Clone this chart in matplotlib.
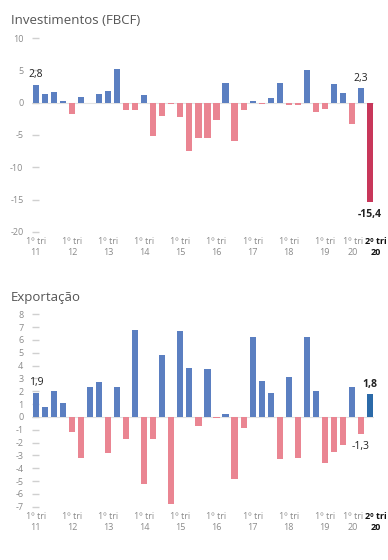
import numpy as np
from matplotlib import pyplot as plt
from matplotlib import transforms

plt.rcParams['font.family'] = ['Open Sans', 'DejaVu Sans']

# variação trimestral, 1º tri 2011 a 2º tri 2020
investimentos = [2.8, 1.3, 1.6, 0.3, -1.7, 0.9, 0.0, 1.3, 1.8, 5.2,
                 -1.2, -1.2, 1.2, -5.1, -2.1, -0.2, -2.2, -7.5, -5.4, -5.4,
                 -2.7, 3.0, -5.9, -1.2, 0.3, -0.2, 0.7, 3.1, -0.3, -0.3,
                 5.1, -1.4, -1.0, 2.9, 1.5, -3.3, 2.3, -15.4]
exportacao = [1.9, 0.8, 2.0, 1.1, -1.2, -3.2, 2.3, 2.7, -2.8, 2.3,
              -1.7, 6.8, -5.2, -1.7, 4.8, -6.8, 6.7, 3.8, -0.7, 3.7,
              -0.1, 0.2, -4.8, -0.9, 6.2, 2.8, 1.9, -3.3, 3.1, -3.2,
              6.2, 2.0, -3.6, -2.7, -2.2, 2.3, -1.3, 1.8]

anos = ['11', '12', '13', '14', '15', '16', '17', '18', '19', '20']
tick_pos = [4 * k for k in range(len(anos))] + [37]
tick_lab = ['1º tri\n' + a for a in anos] + ['2º tri\n20']

azul = '#5b7fc1'
rosa = '#ea8592'
grey = '#8a8a8a'


def painel(ax, vals, titulo, ylim, yticks, destaque, rotulos):
    x = np.arange(len(vals))
    cores = [azul if v >= 0 else rosa for v in vals]
    cores[-1] = destaque
    ax.axhline(0, color='#e2e2e2', lw=0.8, zorder=1)
    ax.bar(x, vals, width=0.68, color=cores, zorder=2)
    ax.set_xlim(-0.45, 37.4)
    ax.set_ylim(*ylim)
    ax.set_yticks(yticks)
    ax.set_yticklabels([str(t) for t in yticks])
    ax.tick_params(axis='y', direction='in', length=5, width=1, color='#d0d0d0',
                   labelsize=6.5, labelcolor=grey, pad=6)
    ax.set_xticks(tick_pos)
    ax.set_xticklabels(tick_lab, linespacing=1.25)
    ax.tick_params(axis='x', length=0, labelsize=6.5, labelcolor=grey, pad=4)
    for s in ax.spines.values():
        s.set_visible(False)
    labs = ax.get_xticklabels()
    labs[-1].set_fontweight('bold')
    labs[-1].set_color('#111111')
    fig = ax.figure
    # afasta os dois últimos rótulos para não se sobreporem
    labs[-2].set_transform(labs[-2].get_transform() +
                           transforms.ScaledTranslation(-8 / 100, 0, fig.dpi_scale_trans))
    labs[-1].set_transform(labs[-1].get_transform() +
                           transforms.ScaledTranslation(6 / 100, 0, fig.dpi_scale_trans))
    ax.text(-0.062, 1.055, titulo, transform=ax.transAxes, fontsize=9.5,
            color='#555555', ha='left', va='bottom')
    for i, txt, bold in rotulos:
        v = vals[i]
        off = 3 if v >= 0 else -5
        ax.annotate(txt, (i, v), xytext=(0, off), textcoords='offset points',
                    ha='center', va='bottom' if v >= 0 else 'top',
                    fontsize=7.5, color='#222222',
                    fontweight='bold' if bold else 'normal')


fig = plt.figure(figsize=(3.88, 5.60), dpi=100)
ax1 = fig.add_axes([0.082, 0.586, 0.881, 0.346])
ax2 = fig.add_axes([0.082, 0.095, 0.881, 0.344])

painel(ax1, investimentos, 'Investimentos (FBCF)', (-20, 10),
       [10, 5, 0, -5, -10, -15, -20], '#c8375a',
       [(0, '2,8', False), (36, '2,3', False), (37, '-15,4', True)])
painel(ax2, exportacao, 'Exportação', (-7, 8), list(range(8, -8, -1)), '#2b6aa8',
       [(0, '1,9', False), (36, '-1,3', False), (37, '1,8', True)])

fig.savefig('out.png', dpi=100)
